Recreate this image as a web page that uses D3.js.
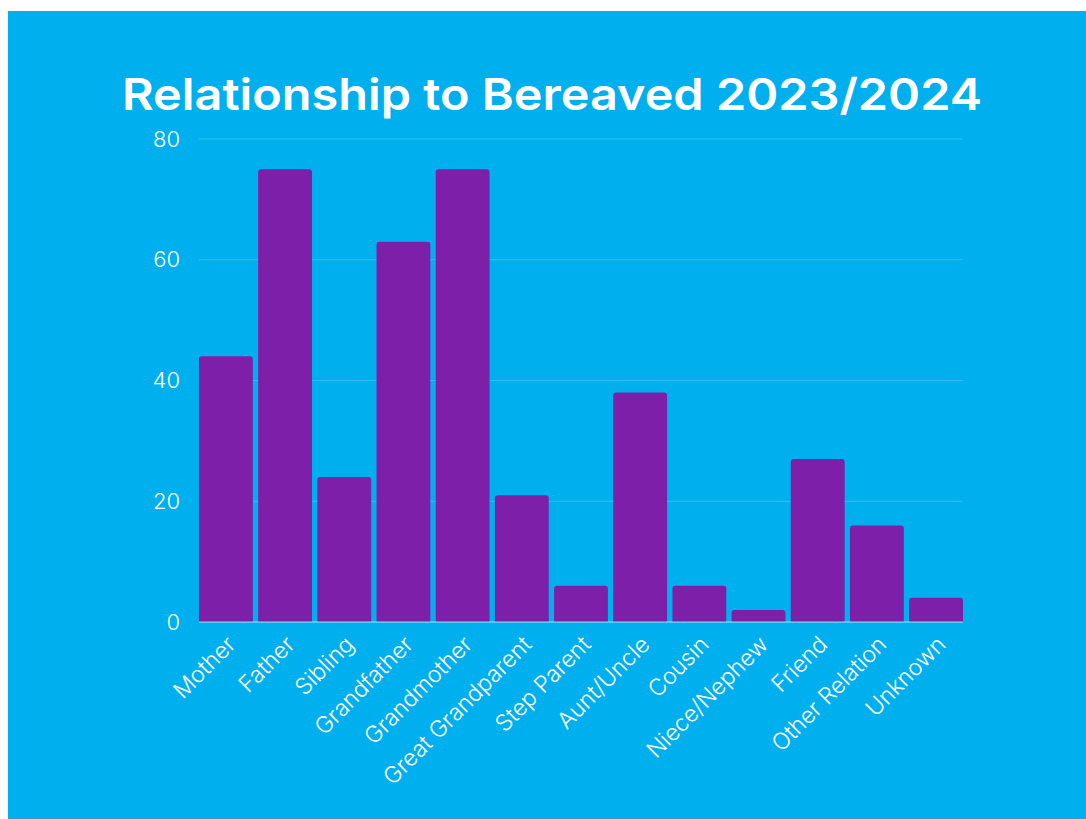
<!DOCTYPE html>
<html lang="en">
<head>
  <meta charset="UTF-8">
  <title>Relationship to Bereaved 2023/2024</title>
  <style>
    body {
      margin: 0;
      padding: 0;
      background-color: #ffffff;
    }
    svg {
      display: block;
    }
    .tick text {
      font-family: Inter, "Open Sans", sans-serif;
      font-weight: 300;
      fill: #ffffff;
    }
  </style>
</head>
<body>
  <svg id="chart"></svg>

  <script src="https://d3js.org/d3.v7.min.js"></script>
  <script>
    const categories = ["Mother", "Father", "Sibling", "Grandfather", "Grandmother", "Great Grandparent",
      "Step Parent", "Aunt/Uncle", "Cousin", "Niece/Nephew", "Friend", "Other Relation", "Unknown"];
    const counts = [44, 75, 24, 63, 75, 21, 6, 38, 6, 2, 27, 16, 4];
    const yTicks = [0, 20, 40, 60, 80];

    const width = 1086;
    const height = 819;
    const margin = { top: 139, right: 123, bottom: 197, left: 199 };

    const svg = d3.select("#chart")
      .attr("width", width)
      .attr("height", height);

    // fond bleu
    svg.append("rect")
      .attr("x", 8)
      .attr("y", 11)
      .attr("width", width - 8)
      .attr("height", height - 11)
      .attr("fill", "#00b0ee");

    svg.append("text")
      .attr("x", 552)
      .attr("y", 110)
      .attr("text-anchor", "middle")
      .attr("textLength", 860)
      .attr("lengthAdjust", "spacingAndGlyphs")
      .style("font-family", "Inter, 'Open Sans', sans-serif")
      .style("font-weight", 600)
      .style("font-size", "44px")
      .style("fill", "#ffffff")
      .text("Relationship to Bereaved 2023/2024");

    const x = d3.scaleBand()
      .domain(categories)
      .range([margin.left, width - margin.right])
      .paddingInner(0.09)
      .paddingOuter(0);

    const y = d3.scaleLinear()
      .domain([0, 80])
      .range([height - margin.bottom, margin.top]);

    // lignes de grille
    svg.append("g")
      .selectAll("line")
      .data(yTicks.filter(d => d > 0))
      .enter()
      .append("line")
      .attr("x1", margin.left)
      .attr("x2", width - margin.right)
      .attr("y1", d => y(d))
      .attr("y2", d => y(d))
      .attr("stroke", "rgba(255,255,255,0.18)")
      .attr("stroke-width", 1);

    const r = 3;
    svg.append("g")
      .selectAll("path")
      .data(categories)
      .enter()
      .append("path")
      .attr("fill", "#7e1fa9")
      .attr("d", (d, i) => {
        const x0 = x(d), w = x.bandwidth();
        const y0 = y(counts[i]), y1 = y(0);
        return `M${x0},${y1}V${y0 + r}Q${x0},${y0} ${x0 + r},${y0}H${x0 + w - r}Q${x0 + w},${y0} ${x0 + w},${y0 + r}V${y1}Z`;
      });

    // ligne de base
    svg.append("line")
      .attr("x1", margin.left)
      .attr("x2", width - margin.right)
      .attr("y1", y(0))
      .attr("y2", y(0))
      .attr("stroke", "rgba(255,255,255,0.45)")
      .attr("stroke-width", 1.5);

    const yAxis = svg.append("g")
      .attr("transform", `translate(${margin.left},0)`)
      .call(d3.axisLeft(y).tickValues(yTicks).tickSize(0).tickPadding(19));
    yAxis.select(".domain").remove();
    yAxis.selectAll("text").style("font-size", "22px");

    const xAxis = svg.append("g")
      .attr("transform", `translate(0,${y(0)})`)
      .call(d3.axisBottom(x).tickSize(0).tickPadding(0));
    xAxis.select(".domain").remove();
    xAxis.selectAll("text")
      .style("font-size", "23px")
      .attr("text-anchor", "end")
      .attr("dy", null)
      .attr("y", 0)
      .attr("transform", "translate(11,24) rotate(-45)");
  </script>
</body>
</html>
